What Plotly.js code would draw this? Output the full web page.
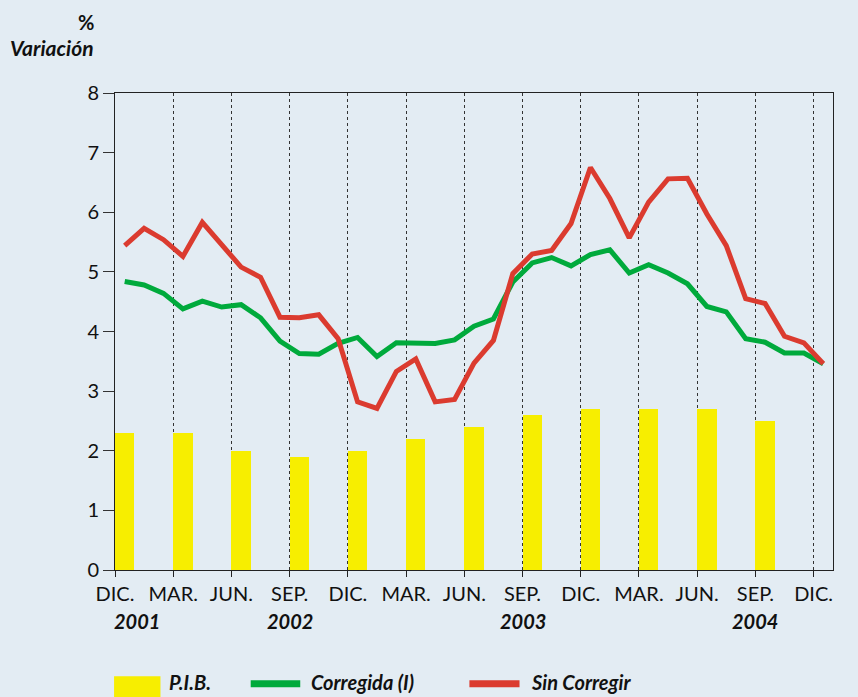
<!DOCTYPE html>
<html>
<head>
<meta charset="utf-8">
<script src="https://cdn.plot.ly/plotly-3.0.1.min.js"></script>
<style>html,body{margin:0;padding:0;background:#e3ecf3;}#chart{width:858px;height:697px;}</style>
</head>
<body>
<div id="chart"></div>
<script>
// Quarter tick labels (Dic 2001 .. Dic 2004)
const tickLabels = ["DIC.","MAR.","JUN.","SEP.","DIC.","MAR.","JUN.","SEP.","DIC.","MAR.","JUN.","SEP.","DIC."];
const yearLabels = ["2001","2002","2003","2004"];
const yearMonthIndex = [0, 9, 21, 33];

// P.I.B. quarterly values (Dic 2001 .. Sep 2004)
const pibValues = [2.3, 2.3, 2.0, 1.9, 2.0, 2.2, 2.4, 2.6, 2.7, 2.7, 2.7, 2.5];

// Monthly series Dic 2001 .. Dic 2004 (37 months)
const corregida = [4.84,4.78,4.64,4.38,4.51,4.41,4.45,4.23,3.84,3.63,3.62,3.80,
                   3.90,3.58,3.81,3.80,3.80,3.86,4.09,4.21,4.83,5.15,5.24,5.10,
                   5.29,5.37,4.98,5.12,4.98,4.80,4.42,4.33,3.88,3.82,3.64,3.64,3.46];
const sinCorregir = [5.44,5.73,5.54,5.26,5.83,5.46,5.08,4.91,4.24,4.23,4.28,3.88,
                     2.82,2.71,3.33,3.54,2.82,2.86,3.47,3.85,4.97,5.30,5.36,5.81,
                     6.75,6.23,5.57,6.17,6.56,6.57,5.97,5.44,4.55,4.47,3.92,3.81,3.46];

const monthX = corregida.map((_, i) => i + 0.5);
const pibX = pibValues.map((_, i) => i * 3 + 0.5);
const tickVals = tickLabels.map((_, i) => i * 3);

const FONT = "Lato, 'Open Sans', sans-serif";
const TXT = "#111";

const traces = [
  {type: "bar", x: pibX, y: pibValues, width: 1, name: "P.I.B.",
   marker: {color: "#f7ee00", line: {width: 0}}, showlegend: false, hoverinfo: "y"},
  {type: "scatter", mode: "lines", x: monthX, y: corregida, name: "Corregida (I)",
   line: {color: "#00aa3c", width: 5}, showlegend: false},
  {type: "scatter", mode: "lines", x: monthX, y: sinCorregir, name: "Sin Corregir",
   line: {color: "#db3b2f", width: 5}, showlegend: false}
];

const annotations = [
  {xref: "paper", yref: "paper", x: -0.027, y: 1.149, xanchor: "right", yanchor: "middle",
   text: "<b>%</b>", showarrow: false, font: {family: FONT, size: 20, color: TXT}},
  {xref: "paper", yref: "paper", x: -0.027, y: 1.0946, xanchor: "right", yanchor: "middle",
   text: "<b><i>Variación</i></b>", showarrow: false, font: {family: FONT, size: 21, color: TXT}}
];
yearLabels.forEach((t, i) => {
  const first = yearMonthIndex[i] === 0;
  annotations.push({xref: first ? "paper" : "x", yref: "paper",
    x: first ? -0.004 : yearMonthIndex[i],
    y: -0.106, xanchor: first ? "left" : "center", yanchor: "middle",
    text: "<b><i>" + t + "</i></b>", showarrow: false, font: {family: FONT, size: 20, color: TXT}});
});
// legend texts
[["P.I.B.", 0.073], ["Corregida (I)", 0.2706], ["Sin Corregir", 0.576]].forEach(([t, x]) => {
  annotations.push({xref: "paper", yref: "paper", x: x, y: -0.2345, xanchor: "left", yanchor: "middle",
    text: "<b><i>" + t + "</i></b>", showarrow: false, font: {family: FONT, size: 20, color: TXT}});
});

const shapes = [
  {type: "rect", xref: "paper", yref: "paper", x0: -0.0013, x1: 0.0633, y0: -0.27, y1: -0.223,
   fillcolor: "#f7ee00", line: {width: 0}},
  {type: "line", xref: "paper", yref: "paper", x0: 0.189, x1: 0.258, y0: -0.2385, y1: -0.2385,
   line: {color: "#00aa3c", width: 7}},
  {type: "line", xref: "paper", yref: "paper", x0: 0.4936, x1: 0.5634, y0: -0.2385, y1: -0.2385,
   line: {color: "#db3b2f", width: 7}}
];

const layout = {
  width: 858, height: 697,
  paper_bgcolor: "#e3ecf3", plot_bgcolor: "#e3ecf3",
  margin: {l: 114.5, r: 24.7, t: 93, b: 127.3, pad: 0},
  showlegend: false,
  font: {family: FONT, size: 20, color: TXT},
  bargap: 0,
  xaxis: {
    range: [0, 37], tickmode: "array", tickvals: tickVals, ticktext: tickLabels,
    showgrid: true, gridcolor: "#333", griddash: "dot", gridwidth: 1,
    showline: true, linecolor: "#222", linewidth: 1, mirror: true,
    ticks: "outside", ticklen: 6, tickcolor: "#222",
    tickfont: {family: FONT, size: 20, color: TXT}, zeroline: false, fixedrange: true
  },
  yaxis: {
    range: [0, 8], tickvals: [0,1,2,3,4,5,6,7,8],
    showgrid: false, showline: true, linecolor: "#222", linewidth: 1, mirror: true,
    ticks: "outside", ticklen: 11, tickcolor: "#333",
    tickfont: {family: FONT, size: 20, color: TXT}, zeroline: false, fixedrange: true
  },
  annotations: annotations,
  shapes: shapes
};

Plotly.newPlot("chart", traces, layout, {displayModeBar: false, staticPlot: true});
</script>
</body>
</html>
